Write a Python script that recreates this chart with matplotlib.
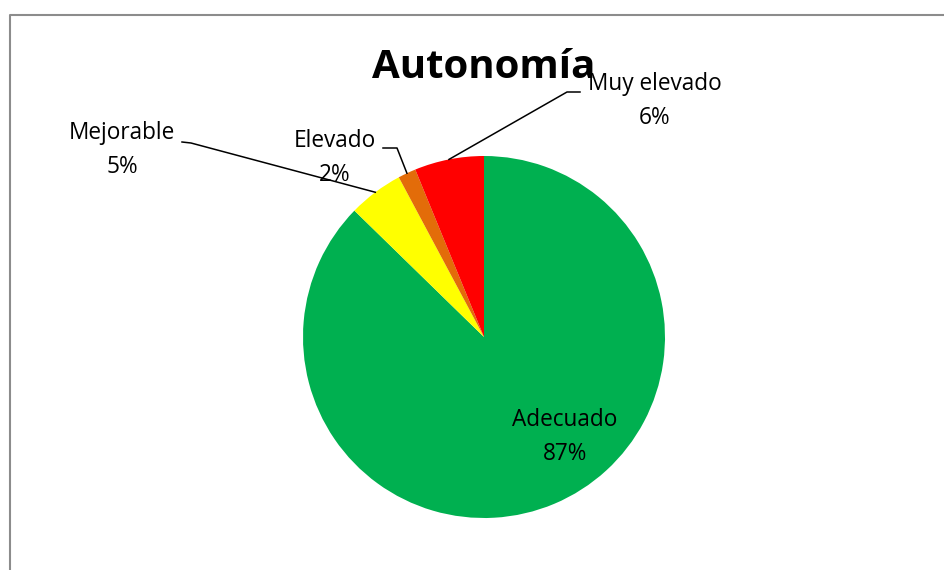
import numpy as np
import matplotlib.pyplot as plt

# slice data (clockwise from 12 o'clock)
categories = ["Adecuado", "Mejorable", "Elevado", "Muy elevado"]
shares = [87.3, 4.9, 1.6, 6.2]
pct_labels = ["87%", "5%", "2%", "6%"]
colors = ["#00B050", "#FFFF00", "#E36C09", "#FF0000"]

W, H = 944, 570
cx, cy, R = 484, 337, 181  # pie centre / radius in pixels

plt.rcParams['font.family'] = ['Open Sans', 'DejaVu Sans']

fig = plt.figure(figsize=(W / 100, H / 100), dpi=100)
ax = fig.add_axes([0, 0, 1, 1])

wedges, _ = ax.pie(shares, colors=colors, startangle=90, counterclock=False,
                   radius=1.0, center=(0, 0), frame=True,
                   wedgeprops=dict(linewidth=0))
ax.set_xlim(-cx / R, (W - cx) / R)
ax.set_ylim((cy - H) / R, cy / R)
ax.set_aspect('auto')
ax.axis('off')


def px(x, y):
    return (x - cx) / R, (cy - y) / R


# label placement (pixels): text centre, leader end near text, bend point
label_pos = {
    "Adecuado": ((565, 437), None, None),
    "Mejorable": ((122, 150), (182, 142), (191, 143)),
    "Elevado": ((335, 158), (383, 148), (397, 148)),
    "Muy elevado": ((655, 101), (580, 92), (567, 92)),
}

fs = 16.3
for w, cat, pct in zip(wedges, categories, pct_labels):
    (tx, ty), end, bend = label_pos[cat]
    ax.text(*px(tx, ty), f"{cat}\n{pct}", ha='center', va='center',
            fontsize=fs, color='black', linespacing=1.55, zorder=3)
    if end is None:
        continue
    mid = np.deg2rad((w.theta1 + w.theta2) / 2)
    ex, ey = np.cos(mid), np.sin(mid)
    bx, by = px(*bend)
    lx, ly = px(*end)
    ax.plot([ex, bx, lx], [ey, by, ly], color='black', lw=1.1, zorder=4)

fig.text(cx / W, 1 - 67 / H, "Autonomía", ha='center', va='center',
         fontsize=29, fontweight='bold')

# chart area border (left and top edges visible)
fig.add_artist(plt.Line2D([10 / W, 10 / W, 1], [0, 1 - 14.5 / H, 1 - 14.5 / H],
                          transform=fig.transFigure, color='#8c8c8c', lw=1.5))

fig.savefig("out.png", dpi=100)
